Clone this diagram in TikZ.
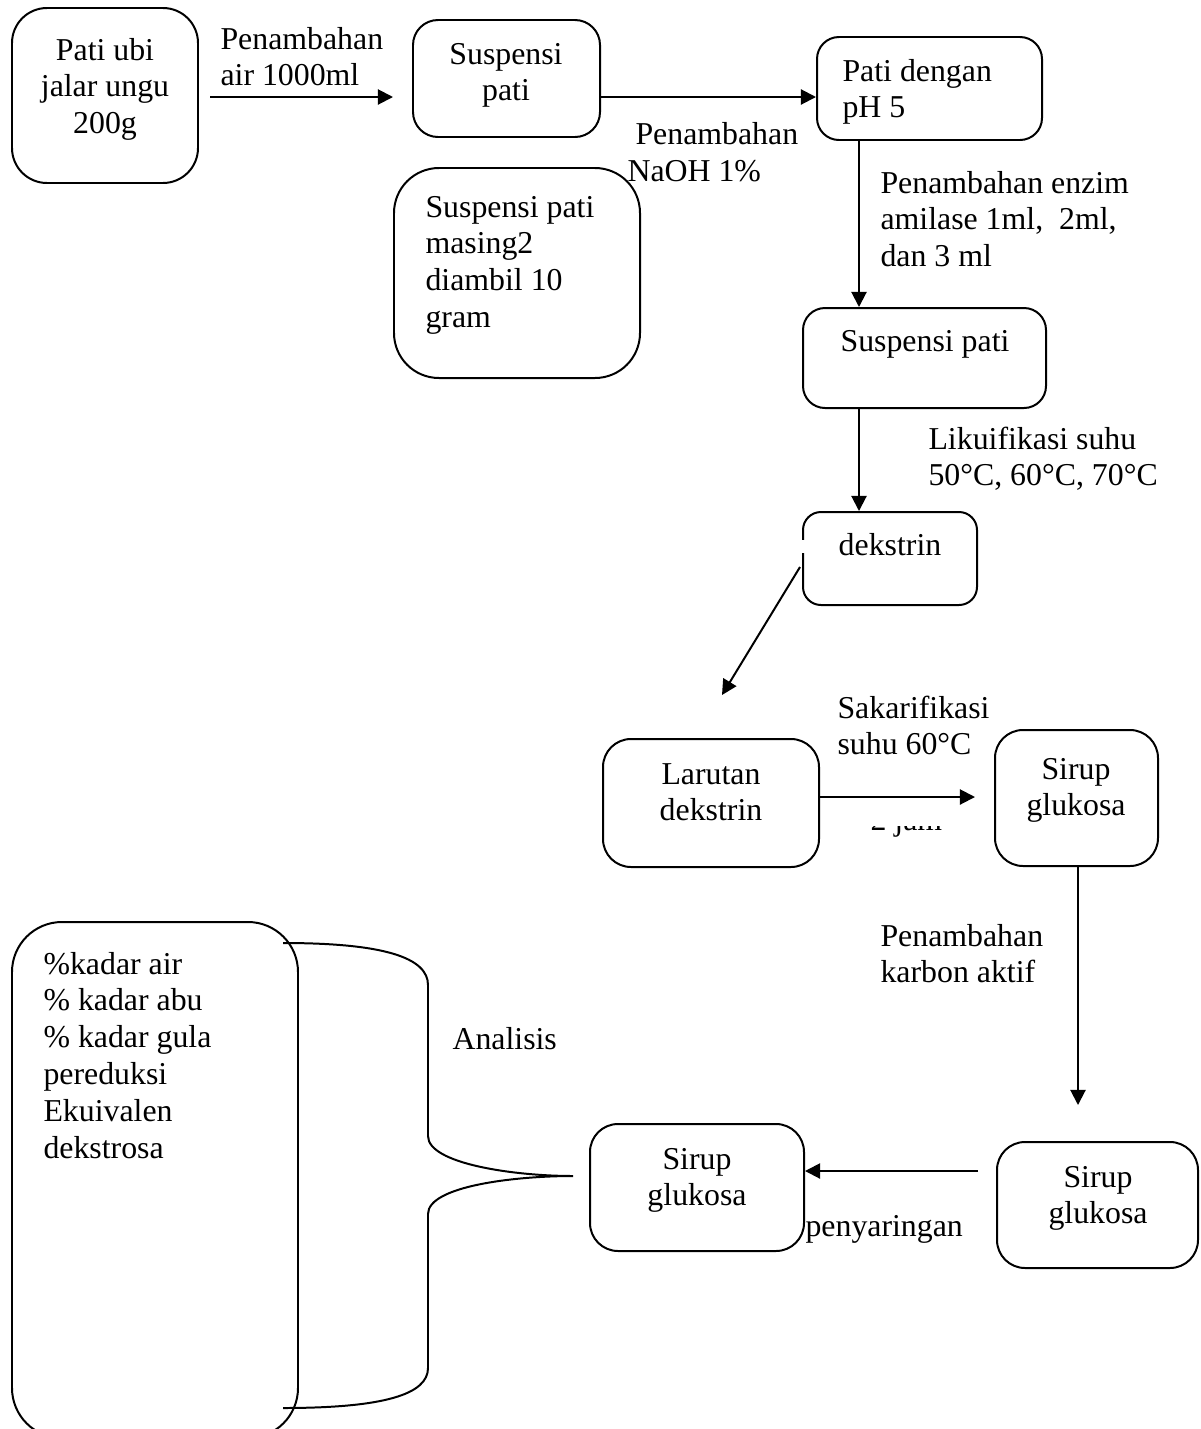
\documentclass[tikz,border=0pt]{standalone}
\usepackage{fontspec}
\setmainfont{Liberation Serif}
\usetikzlibrary{arrows.meta}
\newcommand\lns[2]{\begin{tabular}[t]{@{}#1@{}}#2\end{tabular}}
\def\U{0.377pt}
\begin{document}
\begin{tikzpicture}[x=0.377pt,y=-0.377pt,
  every node/.style={font=\fontsize{12}{13.9}\selectfont, inner sep=0pt},
  box/.style={draw, line width=0.75pt},
  arr/.style={line width=0.75pt, -{Triangle[length=5.7pt,width=5.7pt]}},
  lt/.style={anchor=base west},
  ct/.style={anchor=base}]
\useasboundingbox (0,0) rectangle (1200,1429);
\clip (0,0) rectangle (1200,1429);

% boxes
\node[box, minimum width=186*\U, minimum height=175*\U, rounded corners=35*\U] (A) at (105,95.5) {};
\node[box, minimum width=187*\U, minimum height=117*\U, rounded corners=25*\U] (B) at (506.5,78.5) {};
\node[box, minimum width=225*\U, minimum height=103*\U, rounded corners=22*\U] (C) at (929.5,88.5) {};
\node[box, minimum width=246*\U, minimum height=210*\U, rounded corners=45*\U] (D) at (517,273) {};
\node[box, minimum width=243*\U, minimum height=100*\U, rounded corners=22*\U] (E) at (924.5,358) {};
\node[box, minimum width=174*\U, minimum height=93*\U, rounded corners=18*\U] (F) at (890,558.5) {};
\node[box, minimum width=216*\U, minimum height=128*\U, rounded corners=28*\U] (G) at (711,803) {};
\node[box, minimum width=163*\U, minimum height=136*\U, rounded corners=28*\U] (H) at (1076.5,798) {};
\node[box, minimum width=201*\U, minimum height=126*\U, rounded corners=28*\U] (I) at (1097.5,1205) {};
\node[box, minimum width=214*\U, minimum height=127*\U, rounded corners=28*\U] (J) at (697,1187.5) {};
\node[box, minimum width=286*\U, minimum height=516*\U, rounded corners=50*\U] (K) at (155,1180) {};
\fill[white] (798,540) rectangle (810,553);

% box texts
\node[ct] (tA) at (105,60) {\lns{c}{Pati ubi\\jalar ungu\\200g}};
\node[ct] (tB) at (506,64) {\lns{c}{Suspensi\\pati}};
\node[lt] (tC) at (842,81) {\lns{l}{Pati dengan\\pH 5}};
\node[lt] (tD) at (425,217) {\lns{l}{Suspensi pati\\masing2\\diambil 10\\gram}};
\node[ct] (tE) at (925,351) {Suspensi pati};
\node[ct] (tF) at (890,555) {dekstrin};
\node[ct] (tG) at (711,784) {\lns{c}{Larutan\\dekstrin}};
\node[ct] (tH) at (1076,779) {\lns{c}{Sirup\\glukosa}};
\node[ct] (tI) at (1098,1187) {\lns{c}{Sirup\\glukosa}};
\node[ct] (tJ) at (697,1169) {\lns{c}{Sirup\\glukosa}};
\node[lt] (tK) at (43,974) {\lns{l}{\%kadar air\\\% kadar abu\\\% kadar gula\\pereduksi\\Ekuivalen\\dekstrosa}};

% connector labels
\node[lt] (lAB) at (220,49) {\lns{l}{Penambahan\\air 1000ml}};
\node[lt] (lBC1) at (635,144) {Penambahan};
\node[lt] (lBC2) at (627,181) {NaOH 1\%};
\node[lt] (lCE) at (880,193) {\lns{l}{Penambahan enzim\\amilase 1ml,\ \ 2ml,\\dan 3 ml}};
\node[lt] (lEF) at (928,449) {\lns{l}{Likuifikasi suhu\\50°C, 60°C, 70°C}};
\node[lt] (lGH) at (837,718) {\lns{l}{Sakarifikasi\\suhu 60°C}};
\node[lt] (lHI) at (880,946) {\lns{l}{Penambahan\\karbon aktif}};
\node[lt] (lIJ) at (805,1236) {penyaringan};
\node[lt] (lAn) at (452,1049) {Analisis};
\begin{scope}
\clip (850,826) rectangle (990,850);
\node[lt] (l2j) at (870,830) {2 jam};
\end{scope}

% connectors
\coordinate (a1) at (210,97);
\coordinate (a2) at (393,97);
\coordinate (x1) at (859,0);
\coordinate (f1) at (800,567);
\coordinate (g1) at (722,695);
\coordinate (h1) at (975,797);
\coordinate (i1) at (1078,1105);
\coordinate (j1) at (978,1171);
\draw[arr] (a1) -- (a2);
\draw[arr] (B.east |- a1) -- (C.west |- a1);
\draw[arr] (C.south -| x1) -- (E.north -| x1);
\draw[arr] (E.south -| x1) -- (F.north -| x1);
\draw[arr] (f1) -- (g1);
\draw[arr] (G.east |- h1) -- (h1);
\draw[arr] (H.south -| i1) -- (i1);
\draw[arr] (j1) -- (J.east |- j1);

% brace
\coordinate (bt) at (283,943);
\coordinate (bb) at (283,1408);
\coordinate (tip) at (573,1176);
\draw[line width=0.75pt] (bt) .. controls (385,943) and (428,958) .. (428,985)
  -- (428,1136) .. controls (428,1164) and (515,1176) .. (tip)
  .. controls (515,1176) and (428,1186) .. (428,1214)
  -- (428,1368) .. controls (428,1394) and (385,1408) .. (bb);
\end{tikzpicture}
\end{document}
